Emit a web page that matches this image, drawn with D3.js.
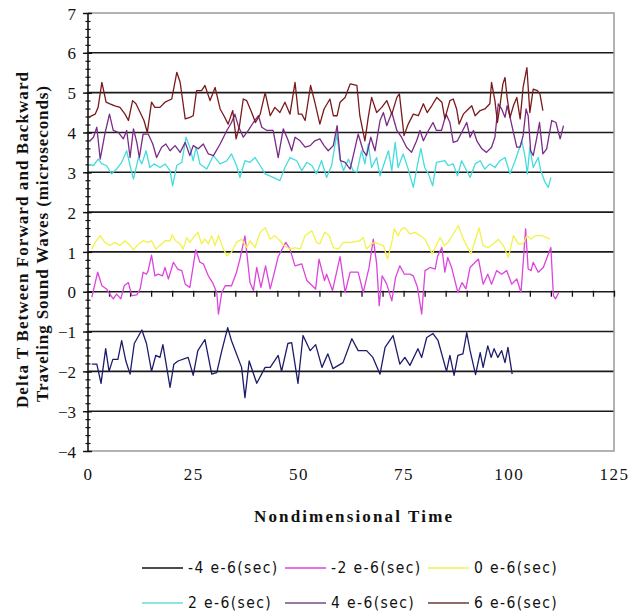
<!DOCTYPE html>
<html>
<head>
<meta charset="utf-8">
<script src="https://cdn.jsdelivr.net/npm/d3@7"></script>
<style>
  html, body { margin: 0; padding: 0; background: #fff; }
  svg { display: block; }
  .tick-label { font-family: "Liberation Serif", "Times New Roman", serif; font-size: 17px; fill: #111; }
  .axis-title { font-family: "Liberation Serif", "Times New Roman", serif; font-size: 17px; font-weight: bold; fill: #111; }
  .legend-text { font-family: "Liberation Sans Narrow", "DejaVu Sans Condensed", "Liberation Sans", sans-serif; font-size: 15.5px; fill: #111; }
</style>
</head>
<body>
<svg id="chart" width="628" height="613"></svg>
<script>
// Delta T series, one [time, microseconds] list per time offset
const seriesNeg4 = [
  [0.9,-1.82],[2.1,-1.82],[3.1,-2.3],[4.2,-1.43],[5.0,-2.0],[5.9,-1.7],[7.1,-1.7],[8.0,-1.23],[9.0,-1.74],[10.0,-2.07],
  [11.0,-1.3],[12.8,-0.96],[13.9,-1.3],[15.1,-2.0],[16.1,-1.6],[17.1,-1.65],[17.8,-1.33],[19.5,-2.4],[20.4,-1.82],[21.4,-1.74],
  [23.8,-1.65],[25.0,-2.1],[26.1,-1.48],[27.8,-1.2],[29.4,-2.07],[30.6,-2.03],[31.8,-1.48],[33.2,-0.9],[34.1,-1.23],[36.5,-1.9],
  [37.3,-2.66],[38.3,-1.74],[40.1,-2.3],[42.1,-1.9],[43.3,-1.9],[45.2,-1.6],[46.0,-2.0],[47.5,-1.3],[48.4,-1.28],[49.9,-2.3],
  [51.1,-1.1],[52.8,-1.48],[54.1,-1.33],[55.6,-1.9],[57.0,-1.56],[58.2,-1.93],[60.6,-1.78],[62.7,-1.18],[64.2,-1.48],[66.2,-1.48],
  [67.7,-1.65],[69.4,-2.07],[70.6,-1.4],[72.5,-1.1],[74.1,-1.82],[75.3,-1.65],[76.5,-1.85],[78.4,-1.43],[79.3,-1.65],[80.5,-1.15],
  [82.0,-1.05],[83.2,-1.23],[85.2,-2.0],[86.0,-1.6],[87.0,-2.1],[87.9,-1.6],[89.1,-1.56],[90.0,-1.03],[90.8,-1.48],[92.1,-2.08],
  [93.2,-1.53],[93.9,-1.9],[95.0,-1.36],[95.8,-1.65],[96.5,-1.43],[97.4,-1.65],[98.3,-1.48],[99.1,-1.78],[99.8,-1.4],[100.8,-2.07]
];
const seriesNeg2 = [
  [0.9,-0.14],[2.3,0.49],[3.3,0.15],[4.4,0.07],[5.2,-0.06],[6.0,-0.18],[6.8,-0.06],[7.8,-0.18],[8.6,0.15],[9.6,0.23],
  [10.4,-0.1],[11.6,-0.08],[12.4,0.07],[13.1,0.49],[13.9,0.44],[14.3,0.53],[15.1,0.92],[15.9,0.4],[16.7,0.44],[17.7,0.4],
  [18.3,0.61],[19.1,0.32],[20.3,0.74],[21.3,0.57],[22.3,0.53],[23.1,0.19],[24.2,0.11],[25.6,1.05],[26.6,0.74],[27.4,0.7],
  [28.6,0.4],[29.6,0.23],[30.6,-0.02],[31.0,-0.56],[31.8,-0.02],[32.6,0.15],[34.1,0.15],[35.3,0.49],[36.1,0.82],[37.3,1.4],
  [38.5,0.23],[39.3,0.03],[40.1,0.61],[41.1,0.11],[42.2,0.65],[43.3,0.07],[44.4,0.53],[45.2,0.88],[47.0,1.24],[48.0,1.07],
  [49.2,0.65],[50.8,0.7],[52.0,0.28],[54.1,0.07],[54.9,0.82],[56.2,0.28],[56.7,0.44],[58.1,0.03],[59.9,0.88],[61.1,-0.02],
  [62.3,0.49],[64.2,0.49],[65.4,-0.02],[66.8,0.61],[67.8,1.32],[68.6,0.7],[69.2,-0.35],[69.9,0.4],[71.0,0.19],[72.2,-0.23],
  [73.1,0.36],[74.1,0.65],[75.2,0.44],[76.5,0.44],[77.3,0.4],[78.3,0.11],[79.3,-0.56],[80.1,0.53],[81.3,0.61],[82.5,0.57],
  [83.1,0.9],[84.1,1.11],[84.8,0.49],[85.5,0.86],[86.4,0.61],[87.9,-0.02],[88.9,0.23],[89.8,0.07],[90.8,0.61],[92.0,0.74],
  [92.8,0.82],[93.9,0.19],[95.0,0.44],[95.9,0.19],[97.1,0.53],[98.3,0.44],[99.5,0.53],[100.7,0.19],[101.9,0.32],[102.9,-0.02],
  [103.4,0.7],[104.0,1.58],[104.6,0.57],[105.3,0.53],[105.8,0.74],[107.0,0.49],[108.2,0.61],[109.4,0.95],[110.0,1.11],[110.6,-0.1],
  [111.1,-0.18],[111.9,-0.02]
];
const seriesZero = [
  [0.9,1.07],[1.7,1.24],[2.9,1.41],[4.0,1.24],[5.2,1.16],[6.4,1.24],[7.6,1.16],[8.8,1.28],[10.0,1.16],[10.8,1.05],
  [12.0,1.2],[13.1,1.28],[14.3,1.24],[15.1,1.28],[16.1,1.07],[17.1,1.16],[18.3,1.28],[19.5,1.28],[20.0,1.43],[20.8,1.28],
  [21.9,1.2],[22.6,1.07],[23.5,1.36],[24.2,1.24],[25.4,1.41],[26.1,1.49],[27.0,1.2],[27.8,1.32],[28.6,1.2],[29.4,1.41],
  [30.2,1.16],[31.0,1.41],[32.2,1.07],[33.0,0.9],[34.1,0.99],[35.3,1.24],[36.5,1.32],[37.7,1.11],[38.5,1.28],[39.7,1.11],
  [40.9,1.49],[42.1,1.61],[43.3,1.32],[44.4,1.41],[45.6,1.28],[46.6,1.16],[48.0,1.07],[49.2,1.11],[50.4,1.07],[51.6,1.41],
  [53.2,1.53],[54.3,1.24],[55.1,1.2],[56.2,1.49],[57.3,1.41],[58.3,1.11],[59.5,1.07],[60.7,1.24],[62.7,1.24],[64.6,1.28],
  [65.4,1.36],[66.2,1.07],[67.3,1.2],[68.2,1.24],[69.0,1.2],[70.2,1.16],[71.2,0.82],[72.2,1.24],[72.8,1.58],[73.7,1.41],
  [74.5,1.58],[75.3,1.61],[76.5,1.45],[77.7,1.49],[78.9,1.41],[80.1,1.32],[81.8,0.95],[82.9,1.2],[83.7,1.36],[84.7,1.16],
  [85.6,1.24],[86.8,1.45],[88.0,1.66],[89.2,1.32],[91.0,0.95],[92.0,1.28],[92.9,1.61],[93.9,1.16],[95.1,1.11],[96.3,1.2],
  [97.5,1.32],[98.7,1.16],[99.9,0.86],[101.1,1.41],[102.3,1.2],[103.4,1.2],[104.3,1.41],[105.3,1.32],[106.4,1.41],[107.8,1.41],
  [109.0,1.36],[109.8,1.32]
];
const seriesPos2 = [
  [0.2,3.2],[1.3,3.17],[2.4,3.33],[3.3,3.21],[4.4,3.17],[5.6,2.96],[6.8,3.08],[8.0,3.25],[9.2,3.54],[10.0,3.17],
  [10.8,2.83],[12.0,3.37],[12.8,3.21],[13.8,3.54],[14.7,3.12],[15.7,3.21],[17.1,3.12],[18.3,3.21],[19.5,3.04],[20.1,2.66],
  [21.1,3.17],[22.3,3.25],[23.3,3.88],[24.2,3.63],[25.0,3.29],[25.7,3.63],[26.6,3.21],[28.2,3.08],[29.8,3.42],[31.4,3.21],
  [33.0,3.29],[34.1,3.46],[35.3,3.17],[36.1,2.87],[37.3,3.29],[38.5,3.25],[39.7,3.37],[40.9,3.17],[42.1,2.96],[44.0,2.87],
  [45.6,2.79],[46.8,3.12],[48.0,3.37],[49.6,3.29],[50.8,3.04],[52.0,3.25],[53.2,3.17],[54.3,2.96],[55.5,3.29],[56.7,2.87],
  [57.9,3.17],[59.1,3.96],[59.9,3.33],[60.7,3.04],[61.9,3.33],[63.0,3.04],[63.9,3.0],[65.0,3.54],[65.8,3.21],[66.6,3.71],
  [67.4,3.12],[68.6,3.37],[69.4,2.91],[70.6,3.29],[71.4,3.54],[72.2,3.04],[73.0,3.75],[73.7,3.12],[74.9,3.46],[76.1,3.08],
  [77.3,2.62],[78.5,3.29],[79.1,3.6],[80.0,3.12],[80.9,2.96],[81.9,2.66],[82.8,3.25],[84.8,3.29],[85.6,3.17],[86.8,3.21],
  [87.8,2.91],[88.8,3.29],[89.6,3.12],[90.8,2.87],[92.0,3.21],[93.2,3.29],[94.3,3.08],[95.5,3.21],[96.7,3.12],[97.9,3.29],
  [99.1,3.37],[100.3,2.96],[101.5,3.29],[102.3,3.54],[103.1,3.79],[103.9,3.37],[104.4,2.96],[105.0,3.63],[105.8,3.12],[107.0,3.37],
  [107.6,3.04],[108.6,2.75],[109.4,2.62],[110.0,2.87]
];
const seriesPos4 = [
  [0.5,3.79],[1.3,3.88],[2.1,4.13],[2.9,3.33],[4.0,3.96],[5.1,4.46],[6.0,4.05],[7.2,4.0],[8.4,3.84],[9.2,4.05],
  [10.0,3.37],[10.8,4.09],[11.6,3.75],[12.2,3.37],[13.1,3.96],[14.3,3.96],[15.4,3.71],[16.3,3.37],[17.5,3.63],[18.5,3.71],
  [19.5,3.54],[20.7,3.67],[21.9,3.5],[23.1,3.75],[24.2,3.42],[25.0,3.67],[26.2,3.59],[27.4,3.71],[28.6,3.46],[29.8,3.42],
  [31.4,3.71],[33.0,4.05],[34.1,4.25],[34.9,4.46],[35.7,4.17],[36.9,3.88],[38.1,4.05],[39.3,4.25],[40.5,4.42],[41.3,4.13],
  [42.5,4.05],[44.0,4.05],[45.2,3.37],[46.4,4.09],[47.6,3.79],[48.4,3.54],[49.2,3.88],[50.4,3.79],[51.6,3.63],[52.8,3.67],
  [53.9,3.79],[55.1,3.84],[56.1,3.67],[57.1,3.54],[58.3,3.67],[59.2,4.17],[60.0,3.29],[61.1,3.25],[62.3,3.08],[63.5,3.63],
  [64.2,3.96],[65.4,3.54],[66.2,3.42],[67.2,3.88],[68.2,3.54],[69.4,4.3],[70.2,4.5],[71.0,4.17],[72.2,4.5],[73.4,4.05],
  [74.5,3.88],[75.7,3.63],[76.9,3.5],[78.1,3.79],[78.9,4.05],[79.7,3.79],[80.9,4.05],[82.0,4.25],[82.8,4.05],[84.0,4.05],
  [85.1,4.46],[86.0,4.25],[86.8,3.75],[87.8,3.79],[88.8,4.0],[90.0,4.25],[90.8,3.88],[91.6,4.05],[92.4,3.79],[93.6,3.59],
  [94.7,3.5],[95.9,3.63],[96.7,3.88],[97.5,4.72],[98.3,4.59],[99.1,4.38],[99.6,4.67],[100.3,4.38],[101.1,4.0],[101.9,3.63],
  [102.7,3.63],[103.4,3.92],[104.1,4.59],[104.6,4.42],[105.2,3.54],[105.8,3.42],[106.6,3.84],[107.3,4.25],[108.1,3.46],[109.0,3.59],
  [110.2,4.3],[111.2,4.25],[112.2,3.84],[113.0,4.17]
];
const seriesPos6 = [
  [0.1,4.38],[1.7,4.46],[2.4,4.63],[3.3,5.26],[4.3,4.76],[5.2,4.72],[6.4,4.67],[7.6,4.63],[8.8,4.46],[9.6,4.3],
  [10.6,4.8],[11.4,4.72],[12.4,4.5],[13.3,4.3],[14.1,4.0],[15.1,4.76],[15.9,4.63],[17.1,4.63],[18.3,4.76],[19.9,4.84],
  [21.1,5.51],[21.9,5.26],[23.1,4.34],[24.2,4.38],[25.0,4.42],[25.8,5.05],[27.0,5.05],[27.8,5.18],[29.0,4.8],[30.2,5.13],
  [31.4,4.59],[32.3,4.42],[33.3,4.21],[34.4,4.55],[35.2,3.84],[36.0,4.17],[36.9,4.84],[37.7,4.8],[38.9,4.5],[39.8,4.25],
  [40.9,4.45],[42.1,5.0],[43.3,4.42],[44.4,4.63],[45.6,4.5],[46.8,4.76],[48.0,4.46],[49.2,5.26],[50.0,4.46],[50.8,4.46],
  [51.6,4.3],[52.9,5.18],[53.9,4.76],[55.1,4.21],[56.1,4.59],[57.5,4.84],[58.3,4.42],[59.2,4.42],[59.9,4.76],[61.1,4.88],
  [62.3,5.22],[63.9,5.18],[64.6,4.42],[65.8,3.79],[66.6,4.38],[67.4,4.88],[68.6,4.5],[69.8,4.63],[71.0,4.8],[72.2,4.46],
  [73.4,4.88],[74.0,4.97],[75.1,3.92],[76.1,4.21],[77.3,4.46],[78.5,4.42],[79.7,4.72],[80.6,4.5],[81.7,4.67],[82.9,4.88],
  [84.1,4.76],[84.8,4.34],[86.0,4.8],[86.8,4.84],[87.6,4.59],[88.2,4.21],[89.2,4.46],[90.4,4.59],[91.2,4.67],[92.0,4.42],
  [93.2,4.55],[94.3,4.59],[95.5,4.72],[95.9,5.26],[96.7,4.8],[97.3,4.25],[97.9,4.67],[98.6,5.22],[99.1,5.38],[99.6,4.88],
  [100.3,4.38],[101.1,4.67],[101.9,4.88],[102.7,4.34],[103.4,5.13],[104.3,5.63],[105.0,4.5],[105.8,5.09],[106.8,5.05],[107.4,4.97],
  [108.1,4.55]
];

const seriesNames = ["-4 e-6(sec)", "-2 e-6(sec)", "0 e-6(sec)", "2 e-6(sec)", "4 e-6(sec)", "6 e-6(sec)"];
const seriesColors = ["#1c1c6a", "#dd44dd", "#f2f24a", "#44dcdc", "#7a2a88", "#7a1a1a"];
const legendColors = ["#111111", "#dd44dd", "#f2f24a", "#66dddd", "#7a4a88", "#6a3a3a"];
const seriesData = [seriesNeg4, seriesNeg2, seriesZero, seriesPos2, seriesPos4, seriesPos6];

const yTickValues = [-4, -3, -2, -1, 0, 1, 2, 3, 4, 5, 6, 7];
const xTickValues = [0, 25, 50, 75, 100, 125];

const svg = d3.select("#chart");
const plotLeft = 88, plotRight = 614, plotTop = 13, plotBottom = 451;

const x = d3.scaleLinear().domain([0, 125]).range([plotLeft, plotRight]);
const y = d3.scaleLinear().domain([-4, 7]).range([plotBottom, plotTop]);

// horizontal gridlines at each whole microsecond
svg.append("g")
  .selectAll("line")
  .data(yTickValues.filter(v => v > -4 && v < 7 && v !== 0))
  .join("line")
  .attr("x1", plotLeft).attr("x2", plotRight)
  .attr("y1", d => y(d)).attr("y2", d => y(d))
  .attr("stroke", "#1a1a1a").attr("stroke-width", 1.6);

// plot frame (top, right, bottom)
svg.append("path")
  .attr("d", `M${plotLeft},${y(7)}H${plotRight}V${y(-4)}H${plotLeft}`)
  .attr("fill", "none").attr("stroke", "#9a9a9a").attr("stroke-width", 1.5);

// zero line with small time ticks every 5 units
svg.append("line")
  .attr("x1", plotLeft).attr("x2", plotRight)
  .attr("y1", y(0)).attr("y2", y(0))
  .attr("stroke", "#1a1a1a").attr("stroke-width", 1.6);
const zeroAxis = d3.axisBottom(x).tickValues(d3.range(5, 126, 5)).tickSize(6).tickFormat("");
const zg = svg.append("g").attr("transform", `translate(0,${y(0) - 1})`).call(zeroAxis);
zg.select(".domain").remove();
zg.selectAll(".tick line").attr("stroke", "#111").attr("stroke-width", 1.3);

// y axis: crossing major and minor ticks
const yMinor = d3.axisLeft(y).tickValues(d3.range(-4, 7.001, 0.2).map(v => +v.toFixed(1))).tickSize(5).tickFormat("");
const ymg = svg.append("g").attr("transform", `translate(${plotLeft + 2.5},0)`).call(yMinor);
ymg.select(".domain").remove();
ymg.selectAll(".tick line").attr("stroke", "#111").attr("stroke-width", 1.2);

const yMajor = d3.axisLeft(y).tickValues(yTickValues).tickSize(9).tickPadding(6).tickFormat(d3.format("d"));
const yg = svg.append("g").attr("transform", `translate(${plotLeft + 4},0)`).call(yMajor);
yg.select(".domain").attr("stroke", "#111").attr("stroke-width", 1.6).attr("d", `M-4,${plotTop}V${plotBottom}`);
yg.selectAll(".tick line").attr("stroke", "#111").attr("stroke-width", 1.4);
yg.selectAll(".tick text").attr("class", "tick-label").attr("x", -16).attr("dy", "0.36em");

// x tick labels below the plot
const xLabels = d3.axisBottom(x).tickValues(xTickValues).tickSize(0).tickPadding(0).tickFormat(d3.format("d"));
const xg = svg.append("g").attr("transform", `translate(0,${plotBottom + 23})`).call(xLabels);
xg.select(".domain").remove();
xg.selectAll(".tick text").attr("class", "tick-label").attr("dy", "0.36em").style("letter-spacing", "1.5px");

// series lines
const line = d3.line().x(d => x(d[0])).y(d => y(d[1]));
svg.append("g")
  .selectAll("path")
  .data(seriesData)
  .join("path")
  .attr("d", d => line(d))
  .attr("fill", "none")
  .attr("stroke", (d, i) => seriesColors[i])
  .attr("stroke-width", 1.3)
  .attr("stroke-linejoin", "round");

// axis titles
svg.append("text").attr("class", "axis-title")
  .attr("x", 353).attr("y", 522).attr("text-anchor", "middle")
  .attr("textLength", 198).attr("lengthAdjust", "spacing")
  .text("Nondimensional Time");

const yTitle = svg.append("g").attr("transform", "translate(0,240) rotate(-90)");
yTitle.append("text").attr("class", "axis-title")
  .attr("x", 0).attr("y", 28).attr("text-anchor", "middle")
  .attr("textLength", 336).attr("lengthAdjust", "spacing")
  .text("Delta T Between Forward and Backward");
yTitle.append("text").attr("class", "axis-title")
  .attr("x", -4).attr("y", 48).attr("text-anchor", "middle")
  .attr("textLength", 316).attr("lengthAdjust", "spacing")
  .text("Traveling Sound Waves (microseconds)");

// legend: two rows of three
const legendCols = [142, 285, 428];
const legendRows = [568, 603];
const legend = svg.append("g")
  .selectAll("g")
  .data(seriesNames)
  .join("g")
  .attr("transform", (d, i) => `translate(${legendCols[i % 3]},${legendRows[Math.floor(i / 3)]})`);
legend.append("line")
  .attr("x1", 0).attr("x2", 41).attr("y1", 0).attr("y2", 0)
  .attr("stroke", (d, i) => legendColors[i]).attr("stroke-width", 1.5);
legend.append("text").attr("class", "legend-text")
  .attr("x", 46).attr("dy", "0.35em")
  .style("letter-spacing", "1.4px")
  .text(d => d);
</script>
</body>
</html>
